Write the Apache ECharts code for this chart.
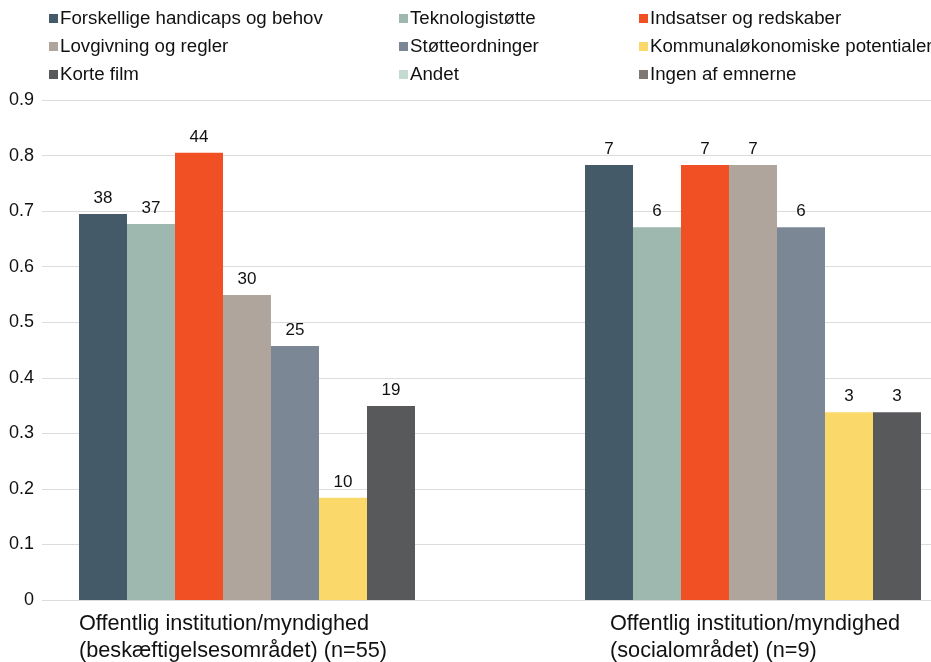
<!DOCTYPE html>
<html>
<head>
<meta charset="UTF-8">
<title></title>
<style type="text/css">
	* { margin: 0; padding: 0; }
	body { width: 931px; height: 662px; overflow: hidden; background: #fff; }
	#chart { width: 1060px; height: 662px; }
</style>
</head>
<body>
<div id="chart"></div>
<script src="https://cdn.jsdelivr.net/npm/echarts@6/dist/echarts.min.js"></script>
<script type="text/javascript">
// data
var categories = [
	'Offentlig institution/myndighed\n(beskæftigelsesområdet) (n=55)',
	'Offentlig institution/myndighed\n(socialområdet) (n=9)'
];
var seriesNames = [
	'Forskellige handicaps og behov', 'Teknologistøtte', 'Indsatser og redskaber',
	'Lovgivning og regler', 'Støtteordninger', 'Kommunaløkonomiske potentialer',
	'Korte film', 'Andet', 'Ingen af emnerne'
];
// share of respondents per series (group 1, group 2)
var shares = [
	[0.695, 0.783],
	[0.677, 0.671],
	[0.805, 0.783],
	[0.549, 0.783],
	[0.457, 0.671],
	[0.184, 0.338],
	[0.349, 0.338],
	[0, 0],
	[0, 0]
];
// counts shown above bars
var counts = [
	[38, 7],
	[37, 6],
	[44, 7],
	[30, 7],
	[25, 6],
	[10, 3],
	[19, 3],
	[0, 0],
	[0, 0]
];
var yTicks = [0, 0.1, 0.2, 0.3, 0.4, 0.5, 0.6, 0.7, 0.8, 0.9];

var colors = ['#445a69', '#9eb8b0', '#f05023', '#b0a59c', '#7c8796', '#fad96a', '#58595b', '#c5dad1', '#7f7872'];
var font = 'Liberation Sans, Arial, sans-serif';

var myChart = echarts.init(document.getElementById('chart'));

var series = seriesNames.map(function(name, i) {
	return {
		name: name,
		type: 'bar',
		barWidth: 48,
		barGap: '0%',
		itemStyle: { color: colors[i] },
		label: {
			show: true,
			position: 'top',
			distance: 7,
			color: '#111',
			fontSize: 17,
			fontFamily: font,
			formatter: function(p) {
				var c = counts[i][p.dataIndex];
				return c ? String(c) : '';
			}
		},
		data: shares[i]
	};
});

function legendCol(left, names) {
	return {
		orient: 'vertical',
		left: left,
		top: 4,
		itemWidth: 9,
		itemHeight: 9,
		itemGap: 9,
		icon: 'rect',
		data: names,
		textStyle: { fontSize: 18.7, fontFamily: font, color: '#111', lineHeight: 18, padding: [0, 0, 0, -3] }
	};
}

var option = {
	animation: false,
	legend: [
		legendCol(44, [seriesNames[0], seriesNames[3], seriesNames[6]]),
		legendCol(394, [seriesNames[1], seriesNames[4], seriesNames[7]]),
		legendCol(634, [seriesNames[2], seriesNames[5], seriesNames[8]])
	],
	grid: { left: 42, right: 6, top: 100, bottom: 62, containLabel: false, outerBoundsMode: 'none' },
	xAxis: {
		type: 'category',
		data: categories,
		axisLine: { show: false },
		axisTick: { show: false },
		axisLabel: {
			interval: 0,
			margin: 11,
			color: '#111',
			fontSize: 21.7,
			fontFamily: font,
			lineHeight: 26.5,
			formatter: function(v, idx) {
				var key = idx === 0 ? 'a' : 'b';
				return v.split('\n').map(function(s) { return '{' + key + '|' + s + '}'; }).join('\n');
			},
			rich: {
				a: { width: 432, align: 'left', fontSize: 21.7, lineHeight: 26.5, fontFamily: font, color: '#111' },
				b: { width: 382, align: 'left', fontSize: 21.7, lineHeight: 26.5, fontFamily: font, color: '#111' }
			}
		}
	},
	yAxis: {
		type: 'value',
		min: 0,
		max: 0.9,
		interval: 0.1,
		axisLine: { show: false },
		axisTick: { show: false },
		splitLine: { lineStyle: { color: '#dcdcdc', width: 1 } },
		axisLabel: {
			margin: 8,
			color: '#111',
			fontSize: 18,
			fontFamily: font,
			formatter: function(v) {
				var t = yTicks.filter(function(x) { return Math.abs(x - v) < 1e-6; })[0];
				return t === 0 ? '0' : t.toFixed(1);
			}
		}
	},
	series: series
};

myChart.setOption(option);
</script>
</body>
</html>
